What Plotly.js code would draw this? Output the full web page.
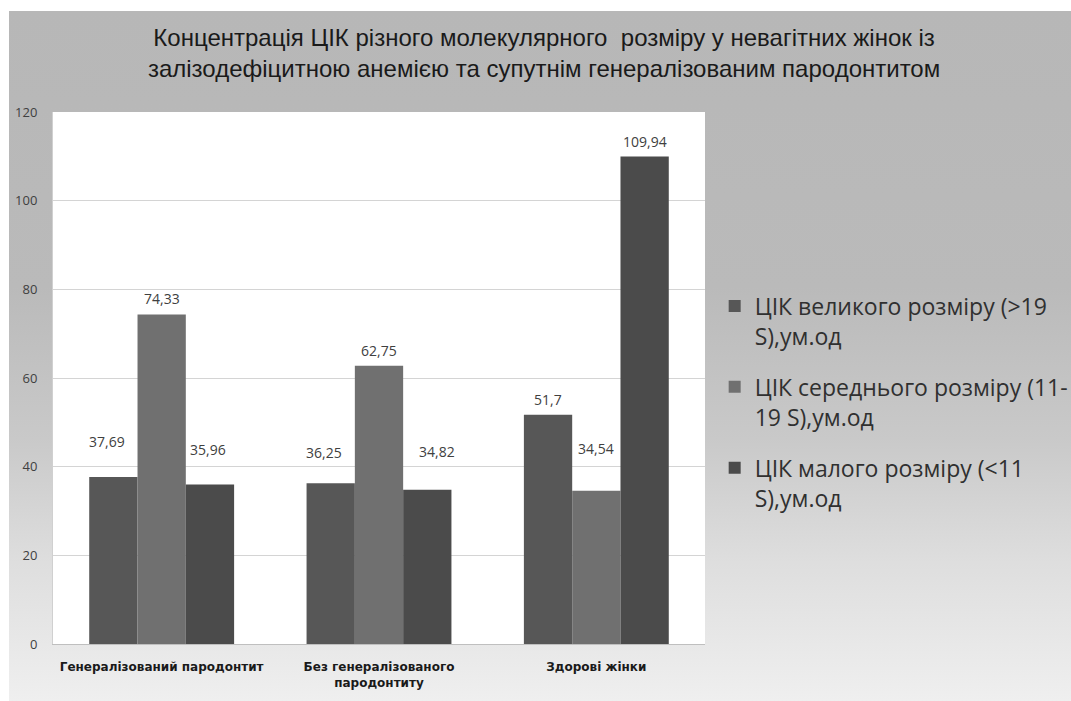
<!DOCTYPE html>
<html>
<head>
<meta charset="utf-8">
<script src="https://cdn.plot.ly/plotly-3.0.1.min.js"></script>
<style>
  html, body { margin: 0; padding: 0; background: #ffffff; overflow: hidden; }
  #wrap { position: relative; width: 1071px; height: 701px; background: #ffffff; }
  #bg { position: absolute; left: 9px; top: 11px; right: 0; bottom: 0;
        background: linear-gradient(to bottom, #b7b7b7 0%, #bababa 40%, #c9c9c9 62%, #dedede 80%, #efefef 100%); }
  #chart { position: absolute; left: 0; top: 0; width: 1071px; height: 701px; }
</style>
</head>
<body>
<div id="wrap"><div id="bg"></div><div id="chart"></div></div>
<script>
// ---- data ----
const categories = ['Генералізований пародонтит', 'Без генералізованого<br>пародонтиту', 'Здорові жінки'];
const seriesNames = [
  'ЦІК великого розміру (&gt;19<br>S),ум.од',
  'ЦІК середнього розміру (11-<br>19 S),ум.од',
  'ЦІК малого розміру (&lt;11<br>S),ум.од'
];
const largeCIC = [37.69, 36.25, 51.7];
const mediumCIC = [74.33, 62.75, 34.54];
const smallCIC = [35.96, 34.82, 109.94];
const yTicks = [0, 20, 40, 60, 80, 100, 120];
const chartTitle = 'Концентрація ЦІК різного молекулярного  розміру у невагітних жінок із<br>залізодефіцитною анемією та супутнім генералізованим пародонтитом';

// ---- styling ----
const colors = ['#575757', '#707070', '#4b4b4b'];
const bargap = 1/3;
// manual label nudges (pixels) as in the original: [dx, dy] per series, per category
const labelNudge = [
  [[-6, 20], [-7, 15], [0, 0]],
  [[0, 0], [0, 0], [0, 27]],
  [[-2, 20], [10, 23], [0, 0]]
];

const series = [largeCIC, mediumCIC, smallCIC];
const traces = series.map((vals, s) => ({
  type: 'bar',
  x: categories,
  y: vals,
  name: seriesNames[s],
  legendgroup: 'g' + s,
  marker: { color: colors[s], line: { width: 0 } },
  hoverinfo: 'skip'
}));

const barW = (1 - bargap) / series.length;
const annotations = [];
series.forEach((vals, s) => {
  vals.forEach((v, i) => {
    annotations.push({
      x: i + (s - (series.length - 1) / 2) * barW,
      y: v,
      xref: 'x', yref: 'y',
      text: String(v).replace('.', ','),
      showarrow: false,
      xanchor: 'center', yanchor: 'bottom',
      xshift: labelNudge[s][i][0],
      yshift: 4 + labelNudge[s][i][1],
      font: { family: 'Open Sans, sans-serif', size: 14, color: '#404040' }
    });
  });
});

const layout = {
  width: 1071, height: 701,
  paper_bgcolor: 'rgba(0,0,0,0)',
  plot_bgcolor: '#ffffff',
  margin: { l: 53, r: 366, t: 112, b: 57, autoexpand: false },
  title: {
    text: chartTitle,
    font: { family: 'Liberation Sans Narrow, Arial Narrow, sans-serif', size: 24, color: '#1a1a1a' },
    x: 0.508, xanchor: 'center',
    y: 0.934, yanchor: 'top'
  },
  barmode: 'group',
  bargap: bargap,
  bargroupgap: 0,
  xaxis: {
    type: 'category',
    showline: true, linecolor: '#bfbfbf', linewidth: 1,
    showgrid: false, zeroline: false,
    ticks: '',
    ticklabelstandoff: 12,
    tickfont: { family: 'DejaVu Sans, sans-serif', size: 12, color: '#1a1a1a', weight: 'bold' },
    fixedrange: true
  },
  yaxis: {
    range: [0, 120],
    tickvals: yTicks,
    showline: true, linecolor: '#d0d0d0', linewidth: 1,
    showgrid: true, gridcolor: '#d4d4d4', gridwidth: 1,
    zeroline: false,
    ticks: '',
    ticklabelstandoff: 12,
    tickfont: { family: 'Open Sans, sans-serif', size: 13, color: '#404040' },
    fixedrange: true
  },
  showlegend: true,
  legend: {
    xref: 'container', yref: 'container',
    x: 0.6673, xanchor: 'left',
    y: 0.594, yanchor: 'top',
    bgcolor: 'rgba(0,0,0,0)',
    valign: 'top',
    tracegroupgap: 18,
    font: { family: 'Open Sans, sans-serif', size: 23, color: '#303030' }
  },
  annotations: annotations
};

Plotly.newPlot('chart', traces, layout, { displayModeBar: false, staticPlot: true });
</script>
</body>
</html>
